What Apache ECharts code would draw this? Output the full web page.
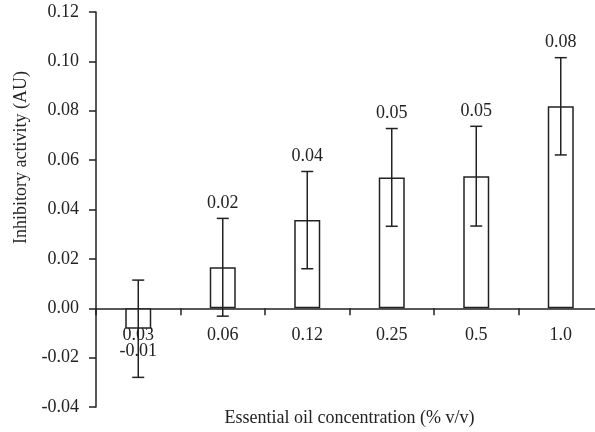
<!DOCTYPE html>
<html>
<head>
    <meta charset="utf-8">
    <script src="https://cdn.jsdelivr.net/npm/echarts@6/dist/echarts.min.js"></script>
</head>
<body style="margin:0">
<div id="main" style="width: 595px;height:432px;"></div>
<script type="text/javascript">
    // data
    var categories = ['0.03', '0.06', '0.12', '0.25', '0.5', '1.0'];
    var means = [-0.0083, 0.0166, 0.0357, 0.0530, 0.0535, 0.0818];
    var errors = [0.0197, 0.0198, 0.0197, 0.0198, 0.0202, 0.0197];
    var valueLabels = ['-0.01', '0.02', '0.04', '0.05', '0.05', '0.08'];
    var yTicks = { min: -0.04, max: 0.12, interval: 0.02 };

    var font = 'Liberation Serif';
    var ink = '#222';
    var fs = 18;

    var errData = means.map(function (m, i) {
        return [i, m, errors[i], valueLabels[i]];
    });

    var myChart = echarts.init(document.getElementById('main'));

    var option = {
        animation: false,
        backgroundColor: '#fff',
        textStyle: { fontFamily: font, color: ink },
        grid: { left: 96, right: -8, top: 12, bottom: 25, outerBoundsMode: 'none', containLabel: false },
        xAxis: {
            type: 'category',
            data: categories,
            name: 'Essential oil concentration (% v/v)',
            nameLocation: 'middle',
            nameGap: 2,
            nameTextStyle: { fontFamily: font, fontSize: fs, color: ink },
            axisLine: { onZero: true, lineStyle: { color: ink, width: 1.5 } },
            axisTick: { show: true, inside: false, length: 7, lineStyle: { color: ink, width: 1.5 } },
            // labels sit just under the zero line, measured from the grid bottom
            axisLabel: { margin: -81, fontFamily: font, fontSize: fs, color: ink },
            splitLine: { show: false }
        },
        yAxis: {
            type: 'value',
            min: yTicks.min,
            max: yTicks.max,
            interval: yTicks.interval,
            name: 'Inhibitory activity (AU)',
            nameLocation: 'middle',
            nameGap: 63,
            // the title sits above the axis middle in the original
            nameTextStyle: { fontFamily: font, fontSize: fs, color: ink, padding: [0, 0, 0, 104] },
            axisLine: { show: true, onZero: false, lineStyle: { color: ink, width: 1.5 } },
            axisTick: { show: true, length: 7, lineStyle: { color: ink, width: 1.5 } },
            axisLabel: {
                margin: 17, fontFamily: font, fontSize: fs, color: ink,
                formatter: function (v) { return v.toFixed(2); }
            },
            splitLine: { show: false }
        },
        series: [
            {
                type: 'bar',
                data: means,
                barWidth: 26,
                itemStyle: { color: '#fff', borderColor: ink, borderWidth: 1.5 }
            },
            {
                type: 'custom',
                data: errData,
                z: 5,
                renderItem: function (params, api) {
                    var x = api.value(0);
                    var m = api.value(1);
                    var e = api.value(2);
                    var hi = api.coord([x, m + e]);
                    var lo = api.coord([x, m - e]);
                    var mid = api.coord([x, m]);
                    var cap = 6;
                    var style = { stroke: ink, lineWidth: 1.5 };
                    var ty = m >= 0 ? hi[1] - 15 : mid[1] + 23;
                    return {
                        type: 'group',
                        children: [
                            { type: 'line', shape: { x1: hi[0], y1: hi[1], x2: lo[0], y2: lo[1] }, style: style },
                            { type: 'line', shape: { x1: hi[0] - cap, y1: hi[1], x2: hi[0] + cap, y2: hi[1] }, style: style },
                            { type: 'line', shape: { x1: lo[0] - cap, y1: lo[1], x2: lo[0] + cap, y2: lo[1] }, style: style },
                            {
                                type: 'text',
                                style: {
                                    x: hi[0], y: ty,
                                    text: valueLabels[params.dataIndex],
                                    fill: ink, font: fs + 'px "' + font + '"',
                                    align: 'center', verticalAlign: 'middle'
                                }
                            }
                        ]
                    };
                }
            }
        ]
    };
    myChart.setOption(option);
</script>
</body>
</html>
